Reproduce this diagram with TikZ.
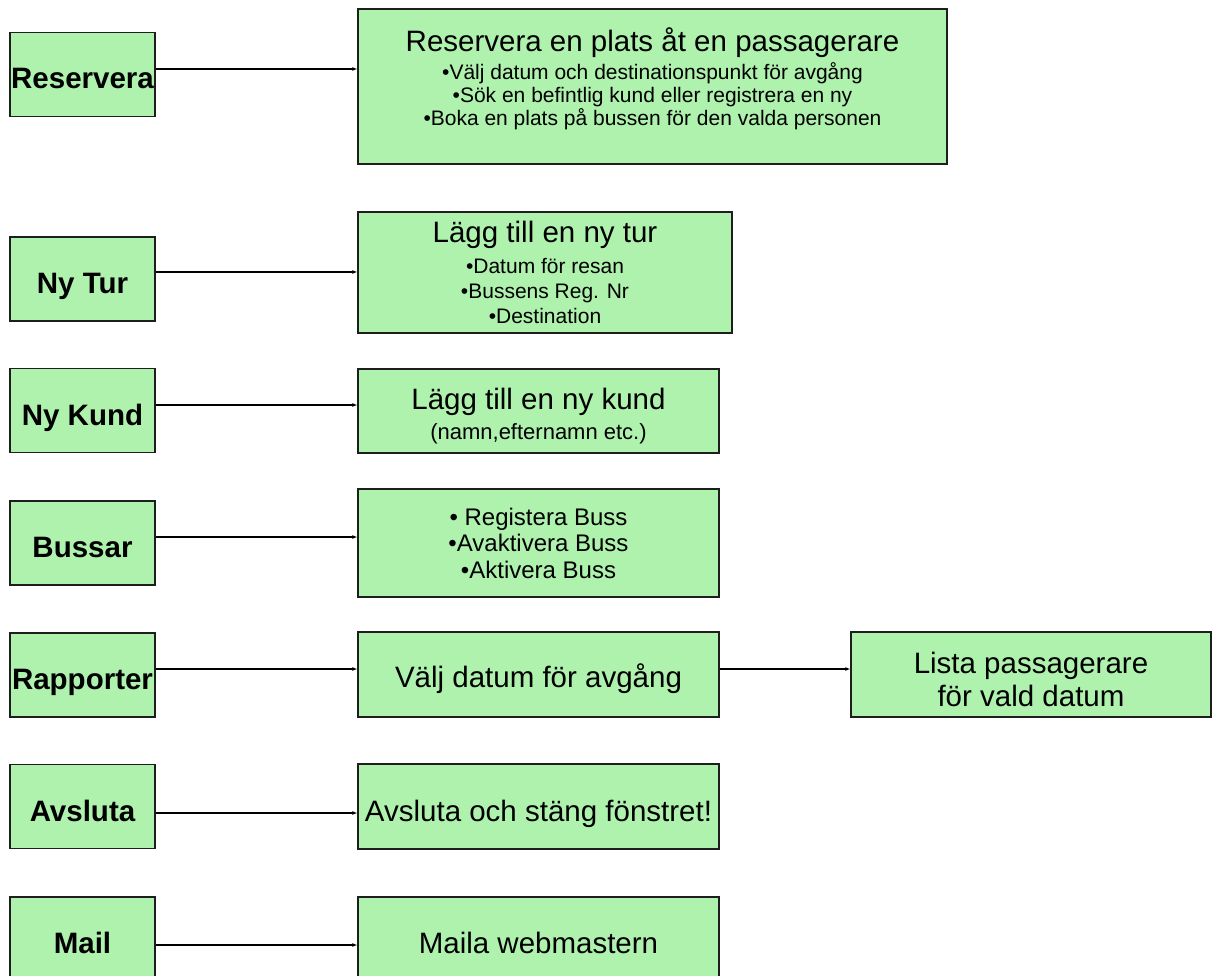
\documentclass[tikz,border=0pt]{standalone}
\usepackage{fontspec}
\setmainfont{Liberation Sans}
\usetikzlibrary{arrows.meta}
\definecolor{boxgreen}{RGB}{174,242,174}
\definecolor{edgegray}{RGB}{30,30,30}
\begin{document}
\begin{tikzpicture}[x=1pt,y=-1pt,
  box/.style={draw=edgegray, line width=1.3pt, fill=boxgreen, inner sep=0pt,
              align=center, text=black},
  menu/.style={box, minimum width=145pt, minimum height=84pt,
               text height=29pt, text depth=0pt,
               font=\fontsize{29.5}{33}\selectfont\bfseries},
  big/.style={font=\fontsize{29.5}{33}\selectfont},
  txt/.style={inner sep=0pt, align=center, text=black},
  link/.style={draw=black, line width=1.2pt, -{Latex[length=5pt,width=4pt]}}]
\useasboundingbox (0,0) rectangle (1213,976);
\clip (0,0) rectangle (1213,976);

% menu buttons on the left
\node[menu] (mRes)  at (82.5, 74.5) {Reservera};
\node[menu] (mTur)  at (82.5,279)   {Ny Tur};
\node[menu] (mKund) at (82.5,410.5) {Ny Kund};
\node[menu] (mBuss) at (82.5,543)   {Bussar};
\node[menu] (mRap)  at (82.5,675)   {Rapporter};
\node[menu] (mAvs)  at (82.5,806.5) {Avsluta};
\node[menu] (mMail) at (82.5,939)   {Mail};

% description boxes
\node[box, minimum width=589pt, minimum height=155pt] (dRes)   at (652.5,86.5) {};
\node[box, minimum width=374pt, minimum height=121pt] (dTur)   at (545,272.5)  {};
\node[box, minimum width=361pt, minimum height=84pt]  (dKund)  at (538.5,411)  {};
\node[box, minimum width=361pt, minimum height=108pt] (dBuss)  at (538.5,543)  {};
\node[box, big, minimum width=361pt, minimum height=85pt, text height=25pt, text depth=0pt]
  (dRap) at (538.5,674.5) {Välj datum för avgång};
\node[box, minimum width=360pt, minimum height=85pt]  (dLista) at (1031,674.5) {};
\node[box, big, minimum width=361pt, minimum height=85pt, text height=29pt, text depth=0pt]
  (dAvs) at (538.5,806.5) {Avsluta och stäng fönstret!};
\node[box, big, minimum width=361pt, minimum height=84pt, text height=28pt, text depth=0pt]
  (dMail) at (538.5,939) {Maila webmastern};

% multi-line texts of the description boxes
\node[txt, font=\fontsize{21}{23}\selectfont] (tRes) at ([yshift=8pt]dRes.center)
  {{\fontsize{29.5}{33}\selectfont Reservera en plats åt en passagerare}\\[4pt]
   •Välj datum och destinationspunkt för avgång\\
   •Sök en befintlig kund eller registrera en ny\\
   •Boka en plats på bussen för den valda personen};
\node[txt, font=\fontsize{21}{25}\selectfont] (tTur) at (dTur.center)
  {{\fontsize{29.5}{33}\selectfont Lägg till en ny tur}\\[6pt]
   •Datum för resan\\
   •Bussens Reg. Nr\\
   •Destination};
\node[txt, big] (tKund) at ([yshift=-5pt]dKund.center)
  {Lägg till en ny kund\\[-3pt]
   {\fontsize{22}{26}\selectfont (namn,efternamn etc.)}};
\node[txt, font=\fontsize{24}{26.5}\selectfont] (tBuss) at (dBuss.center)
  {• Registera Buss\\
   •Avaktivera Buss\\
   •Aktivera Buss};
\node[txt, big] (tLista) at ([yshift=-5pt]dLista.center)
  {Lista passagerare\\för vald datum};

% connector heights
\coordinate (yRes)  at (0,69);
\coordinate (yTur)  at (0,272);
\coordinate (yKund) at (0,405);
\coordinate (yBuss) at (0,537);
\coordinate (yRap)  at (0,669);
\coordinate (yAvs)  at (0,813);
\coordinate (yMail) at (0,945);

\draw[link] (mRes.east  |- yRes)  -- (dRes.west  |- yRes);
\draw[link] (mTur.east  |- yTur)  -- (dTur.west  |- yTur);
\draw[link] (mKund.east |- yKund) -- (dKund.west |- yKund);
\draw[link] (mBuss.east |- yBuss) -- (dBuss.west |- yBuss);
\draw[link] (mRap.east  |- yRap)  -- (dRap.west  |- yRap);
\draw[link] (dRap.east  |- yRap)  -- (dLista.west |- yRap);
\draw[link] (mAvs.east  |- yAvs)  -- (dAvs.west  |- yAvs);
\draw[link] (mMail.east |- yMail) -- (dMail.west |- yMail);
\end{tikzpicture}
\end{document}
